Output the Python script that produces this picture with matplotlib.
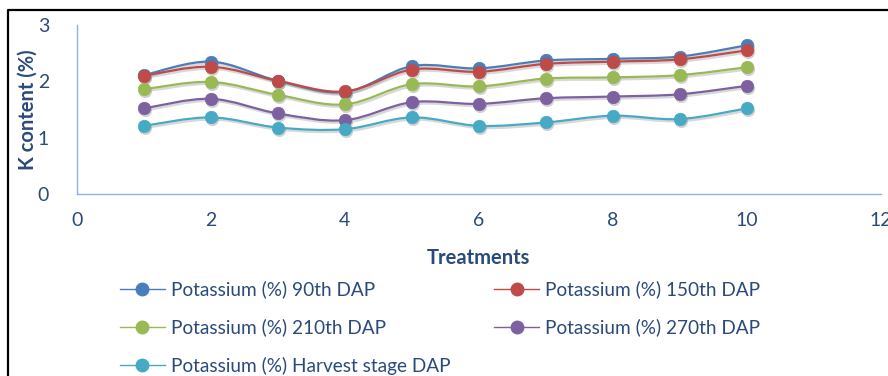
import matplotlib
matplotlib.use('Agg')
import matplotlib.pyplot as plt
import numpy as np
from matplotlib.path import Path
from matplotlib.patches import PathPatch
from matplotlib.lines import Line2D
from matplotlib.transforms import offset_copy

# potassium content (%) per treatment at each sampling stage
treatments = [1, 2, 3, 4, 5, 6, 7, 8, 9, 10]
k_90 = [2.11, 2.35, 2.01, 1.81, 2.27, 2.23, 2.37, 2.40, 2.44, 2.64]
k_150 = [2.10, 2.26, 2.01, 1.82, 2.21, 2.17, 2.31, 2.35, 2.39, 2.55]
k_210 = [1.86, 1.99, 1.76, 1.59, 1.95, 1.91, 2.05, 2.07, 2.11, 2.25]
k_270 = [1.52, 1.69, 1.43, 1.31, 1.63, 1.60, 1.70, 1.73, 1.77, 1.92]
k_harvest = [1.21, 1.36, 1.18, 1.15, 1.36, 1.21, 1.27, 1.39, 1.33, 1.52]

labels = ["Potassium (%) 90th DAP", "Potassium (%) 150th DAP",
          "Potassium (%) 210th DAP", "Potassium (%) 270th DAP",
          "Potassium (%) Harvest stage DAP"]
colors = ["#4A7EBB", "#BE4B48", "#98B954", "#7D60A0", "#46AAC5"]
series = [k_90, k_150, k_210, k_270, k_harvest]

txt = "#2B4A7C"
plt.rcParams['font.family'] = ['Lato', 'DejaVu Sans']


def smooth_path(x, y):
    # excel-style smoothed line: cubic bezier through every point
    x = np.asarray(x, float)
    y = np.asarray(y, float)
    n = len(x)
    verts = [(x[0], y[0])]
    codes = [Path.MOVETO]
    for i in range(n - 1):
        p0 = np.array([x[max(i - 1, 0)], y[max(i - 1, 0)]])
        p1 = np.array([x[i], y[i]])
        p2 = np.array([x[i + 1], y[i + 1]])
        p3 = np.array([x[min(i + 2, n - 1)], y[min(i + 2, n - 1)]])
        c1 = p1 + (p2 - p0) / 6.0
        c2 = p2 - (p3 - p1) / 6.0
        verts += [tuple(c1), tuple(c2), tuple(p2)]
        codes += [Path.CURVE4] * 3
    return Path(verts, codes)


fig = plt.figure(figsize=(8.88, 3.76), dpi=100)
ax = fig.add_axes([0.0867, 0.484, 0.905, 0.4495])

shadow = offset_copy(ax.transData, fig=fig, x=1.5, y=-2, units='dots')
for vals, c in zip(series, colors):
    ax.add_patch(PathPatch(smooth_path(treatments, vals), fill=False,
                           edgecolor='gray', lw=1.8, alpha=0.3,
                           transform=shadow))
    ax.add_patch(PathPatch(smooth_path(treatments, vals), fill=False,
                           edgecolor=c, lw=1.6))
    ax.plot(treatments, vals, 'o', ms=9.5, color='gray', alpha=0.35,
            mec='none', transform=shadow)
    ax.plot(treatments, vals, 'o', ms=9, color=c, mec=c, mew=0.5)

ax.set_xlim(0, 12)
ax.set_ylim(0, 3)
ax.set_xticks([0, 2, 4, 6, 8, 10, 12])
ax.set_yticks([0, 1, 2, 3])
for s in ['top', 'right']:
    ax.spines[s].set_visible(False)
for s in ['left', 'bottom']:
    ax.spines[s].set_color('#8DB3E2')
    ax.spines[s].set_linewidth(1)
ax.tick_params(length=0, labelsize=14, labelcolor=txt)
ax.tick_params(axis='y', pad=20)
ax.tick_params(axis='x', pad=13)
ax.set_xlabel("Treatments", fontsize=14.5, fontweight='bold', color=txt)
ax.set_ylabel("K content (%)", fontsize=14.5, fontweight='bold', color=txt)
ax.xaxis.set_label_coords(0.499, -0.379)
ax.yaxis.set_label_coords(-0.061, 0.5)
ax.xaxis.label.set_va('center')
ax.yaxis.label.set_va('center')

# legend filled row by row: 90/150, 210/270, harvest
order = [0, 2, 4, 1, 3]
handles = [Line2D([], [], color=colors[i], lw=1, marker='o', ms=9,
                  mec=colors[i]) for i in order]
leg = fig.legend(handles, [labels[i] for i in order], ncol=2,
                 loc='upper left', bbox_to_anchor=(0.135, 0.254),
                 frameon=False, fontsize=13.7, handlelength=2.37,
                 handletextpad=0.3, columnspacing=2.3, labelspacing=1.06,
                 borderaxespad=0, borderpad=0)
for t in leg.get_texts():
    t.set_color(txt)

# outer chart frame
fig.add_artist(Line2D([8 / 888, 8 / 888, 1.0], [0, 1 - 10 / 376, 1 - 10 / 376],
                      transform=fig.transFigure, color='black', lw=1.6))

plt.savefig("out.png", dpi=100)
